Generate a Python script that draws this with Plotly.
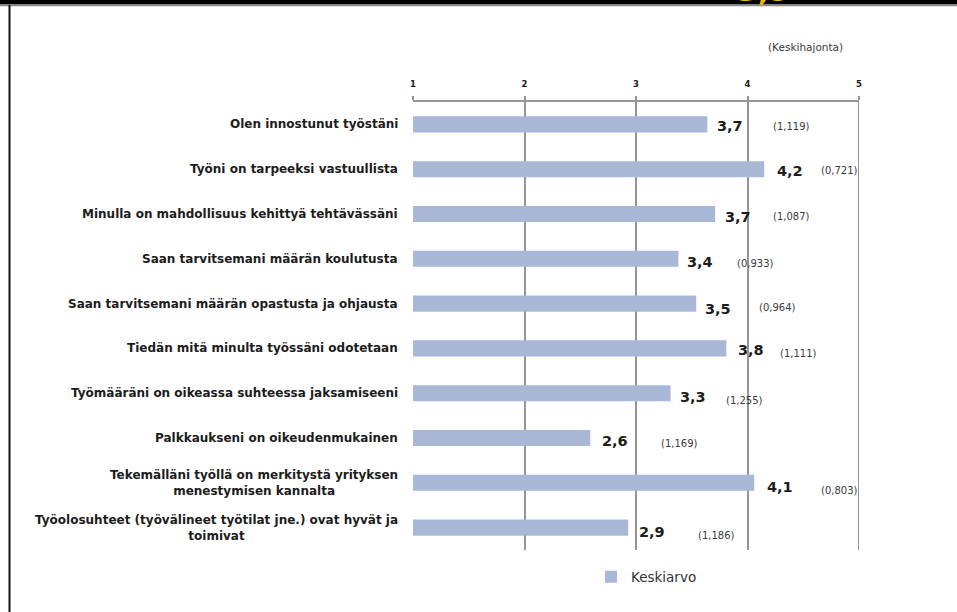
import plotly.graph_objects as go

categories = [
    "Olen innostunut työstäni",
    "Työni on tarpeeksi vastuullista",
    "Minulla on mahdollisuus kehittyä tehtävässäni",
    "Saan tarvitsemani määrän koulutusta",
    "Saan tarvitsemani määrän opastusta ja ohjausta",
    "Tiedän mitä minulta työssäni odotetaan",
    "Työmääräni on oikeassa suhteessa jaksamiseeni",
    "Palkkaukseni on oikeudenmukainen",
    "Tekemälläni työllä on merkitystä yrityksen<br>menestymisen kannalta",
    "Työolosuhteet (työvälineet työtilat jne.) ovat hyvät ja<br>toimivat",
]
keskiarvo = [3.64, 4.15, 3.71, 3.38, 3.54, 3.81, 3.31, 2.59, 4.06, 2.93]
value_labels = ["3,7", "4,2", "3,7", "3,4", "3,5", "3,8", "3,3", "2,6", "4,1", "2,9"]
keskihajonta = ["(1,119)", "(0,721)", "(1,087)", "(0,933)", "(0,964)",
                "(1,111)", "(1,255)", "(1,169)", "(0,803)", "(1,186)"]
tick_vals = [1, 2, 3, 4, 5]
tick_text = ["1", "2", "3", "4", "5"]
header_text = "3,9"

# styling (label placement offsets in pixels)
val_shift_x = [8, 11, 8, 7, 7, 10, 7, 10, 11, 9]
val_shift_y = [-2, -2, -3, -3, -5, -2, -4, -3, -4, -4]
std_shift_x = [84, 75, 76, 77, 81, 72, 74, 89, 85, 88]
std_shift_y = [-2, -1, -2, -5, -4, -5, -7, -5, -8, -8]

W, H = 957, 612
ML, MR, MT, MB = 413, 98, 102, 62
PW, PH = W - ML - MR, H - MT - MB


def px2x(px):
    return (px - ML) / PW


def py2y(py):
    return (H - MB - py) / PH


FONT = "'DejaVu Sans', sans-serif"
GRID = "#959595"

fig = go.Figure()
fig.add_trace(go.Bar(
    y=categories, x=[v - 1 for v in keskiarvo], base=1, orientation="h",
    marker=dict(color="#A9B8D7", line=dict(width=0)),
    width=0.36, name="Keskiarvo", showlegend=True,
    hoverinfo="skip",
))

annotations = []
for i, cat in enumerate(categories):
    annotations.append(dict(
        x=-13 / PW, xref="paper", y=cat, yref="y", xanchor="right", yanchor="middle",
        text=cat, showarrow=False, align="center",
        font=dict(family=FONT, size=12, color="#1c1c1c", weight="bold"),
    ))
    annotations.append(dict(
        x=keskiarvo[i], xref="x", y=cat, yref="y", xanchor="left", yanchor="middle",
        xshift=val_shift_x[i], yshift=val_shift_y[i],
        text=value_labels[i], showarrow=False,
        font=dict(family=FONT, size=14.5, color="#1c1c1c", weight="bold"),
    ))
    annotations.append(dict(
        x=keskiarvo[i], xref="x", y=cat, yref="y", xanchor="center", yanchor="middle",
        xshift=std_shift_x[i], yshift=std_shift_y[i],
        text=keskihajonta[i], showarrow=False,
        font=dict(family=FONT, size=10, color="#3a3a3a"),
    ))

annotations.append(dict(
    x=px2x(805), y=py2y(47), xref="paper", yref="paper", xanchor="center", yanchor="middle",
    text="(Keskihajonta)", showarrow=False,
    font=dict(family=FONT, size=10.5, color="#3a3a3a"),
))
annotations.append(dict(
    x=px2x(763), y=py2y(9.5), xref="paper", yref="paper", xanchor="center", yanchor="bottom",
    text=header_text, showarrow=False,
    font=dict(family=FONT, size=30, color="#E8B800", weight="bold"),
))

shapes = [
    dict(type="rect", xref="paper", yref="paper", x0=px2x(-5), x1=px2x(W + 5),
         y0=py2y(4.5), y1=py2y(-40), fillcolor="black", line=dict(width=0), layer="below"),
    dict(type="line", xref="paper", yref="paper", x0=px2x(0), x1=px2x(W),
         y0=py2y(5.5), y1=py2y(5.5), line=dict(color="#8a8a8a", width=1.5)),
    dict(type="line", xref="paper", yref="paper", x0=px2x(9.5), x1=px2x(9.5),
         y0=py2y(5), y1=py2y(H + 2), line=dict(color="#111111", width=2)),
    dict(type="line", xref="x", yref="paper", x0=tick_vals[-1], x1=tick_vals[-1],
         y0=0, y1=1, line=dict(color=GRID, width=2), layer="below"),
]

fig.update_layout(
    width=W, height=H,
    margin=dict(l=ML, r=MR, t=MT, b=MB, pad=0),
    paper_bgcolor="white", plot_bgcolor="white",
    xaxis=dict(
        range=[1, 5], side="top", tickvals=tick_vals, ticktext=tick_text,
        showgrid=True, gridcolor=GRID, gridwidth=2,
        showline=True, linecolor=GRID, linewidth=2,
        ticks="outside", ticklen=4, tickcolor=GRID, tickwidth=2,
        ticklabelstandoff=6,
        tickfont=dict(family=FONT, size=8.5, color="#1c1c1c", weight="bold"),
        zeroline=False, fixedrange=True, layer="below traces",
    ),
    yaxis=dict(
        autorange="reversed", showticklabels=False, showgrid=False,
        showline=False, zeroline=False, ticks="", fixedrange=True,
    ),
    legend=dict(
        orientation="h", x=px2x(591), xanchor="left", y=py2y(577), yanchor="middle",
        font=dict(family=FONT, size=13.5, color="#333333"),
        bgcolor="rgba(0,0,0,0)", itemclick=False,
    ),
    annotations=annotations,
    shapes=shapes,
    showlegend=True,
)

fig.write_html("out.html")
